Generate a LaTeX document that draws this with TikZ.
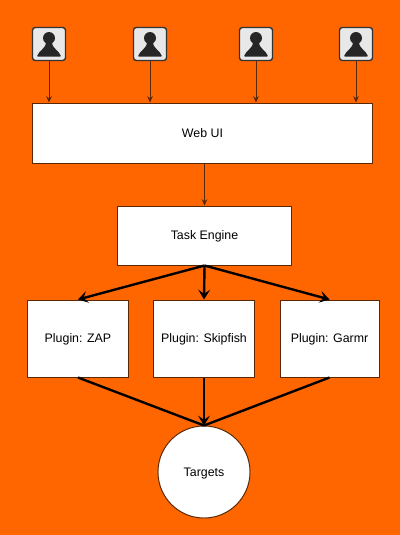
\documentclass[tikz,border=0pt]{standalone}
\usepackage{fontspec}
\setmainfont{Liberation Sans}
\usepackage{xcolor}
\usetikzlibrary{positioning,arrows.meta}
\definecolor{bgorange}{RGB}{255,102,0}
\definecolor{iconbox}{RGB}{232,232,232}
\definecolor{thinbrown}{RGB}{90,40,5}
\begin{document}
\begin{tikzpicture}[x=0.025cm,y=-0.025cm,>=stealth,font=\fontsize{8.8pt}{10pt}\selectfont]
\tikzstyle{box}=[draw=thinbrown,fill=white,line width=0.7pt,inner sep=0pt,align=center,text height=6.2pt,text depth=0pt]
\tikzstyle{user}=[draw=black!80,fill=iconbox,line width=1pt,rounded corners=2pt,minimum size=0.825cm,inner sep=0pt]
\tikzstyle{thinarrow}=[->,draw=thinbrown,line width=0.6pt,>={Stealth[length=4.5pt,width=4pt,inset=1.5pt]}]
\tikzstyle{thickline}=[draw=black,line width=1.7pt]
\tikzstyle{thickarrow}=[->,draw=black,line width=1.7pt,>={Stealth[length=7pt,width=8.5pt,inset=3pt]}]
\fill[bgorange] (0,0) rectangle (400,535);
\useasboundingbox (0,0) rectangle (400,535);
\node[box,minimum width=8.5cm,minimum height=1.5cm] (web) at (202.5,133) {Web UI};
\node[box,minimum width=4.325cm,minimum height=1.475cm,below=1.05cm of web.south,anchor=north,xshift=0.05cm] (task) {Task Engine};
\node[box,minimum width=2.5cm,minimum height=1.925cm] (skipfish) at (204,338.5) {Plugin: Skipfish};
\node[box,minimum width=2.5cm,minimum height=1.925cm,left=0.625cm of skipfish] (zap) {Plugin: ZAP};
\node[box,minimum width=2.475cm,minimum height=1.925cm,right=0.625cm of skipfish] (garmr) {Plugin: Garmr};
\node[box,circle,minimum size=2.3cm] (targets) at (204,472) {Targets};
% users across the top
\foreach \name/\xpos in {usera/49,userb/150,userc/256,userd/356}{
  \node[user] (\name) at (\xpos,44) {};
  \fill[black!85] (\xpos,38) circle (0.15cm);
  \fill[black!85,rounded corners=0.5pt] (\xpos-3,41) -- (\xpos+3,41) .. controls (\xpos+3,49) and (\xpos+10,50) .. (\xpos+12,56.5) -- (\xpos-12,56.5) .. controls (\xpos-10,50) and (\xpos-3,49) .. (\xpos-3,41) -- cycle;
  \draw[thinarrow] (\name.south) -- (\name.south |- web.north);
}
\draw[thinarrow] (web.south -| task.north) -- (task.north);
\draw[thickarrow] (task.south) -- (zap.north);
\draw[thickarrow] (task.south) -- (skipfish.north);
\draw[thickarrow] (task.south) -- (garmr.north);
\draw[thickline] (zap.south) -- (targets.north);
\draw[thickline] (garmr.south) -- (targets.north);
\draw[thickarrow] (skipfish.south) -- (targets.north);
\end{tikzpicture}
\end{document}
